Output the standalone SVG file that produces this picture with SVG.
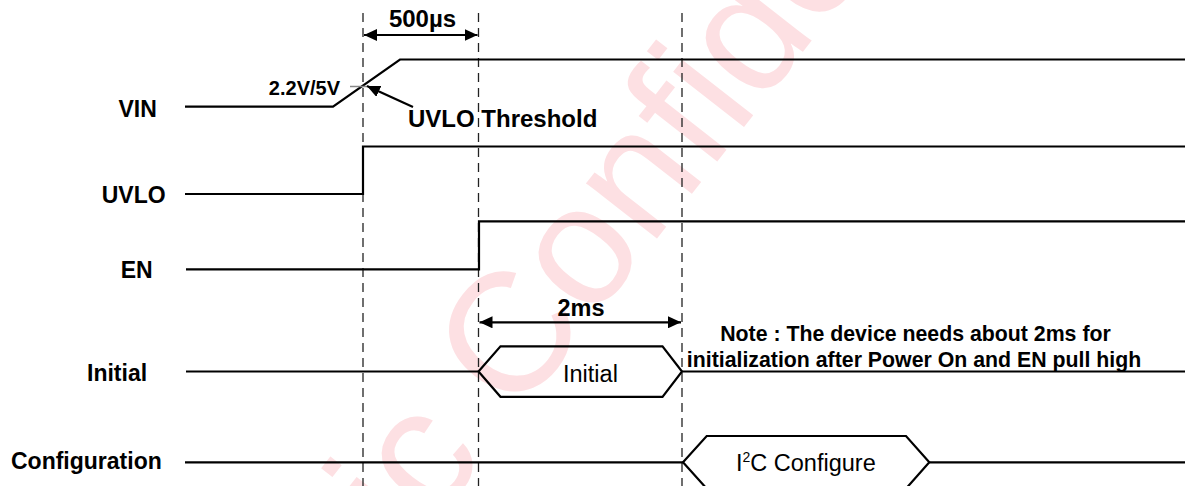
<svg xmlns="http://www.w3.org/2000/svg" width="1185" height="486" viewBox="0 0 1185 486">
<style>
.sig{fill:none;stroke:#000;stroke-width:2.2;stroke-linejoin:miter}
.dash{fill:none;stroke:#222;stroke-width:1.3;stroke-dasharray:9 6}
.dim{fill:none;stroke:#000;stroke-width:2.2}
.lbl{font-family:"Liberation Sans",Arial,sans-serif;font-weight:bold;font-size:23px;fill:#000}
.reg{font-family:"Liberation Sans",Arial,sans-serif;font-size:23.5px;fill:#000}
.wm{font-family:"Liberation Sans",Arial,sans-serif;font-size:170px;fill:#fde0e3}
</style>
<defs>
<marker id="ah" markerUnits="userSpaceOnUse" markerWidth="14" markerHeight="12" refX="13" refY="6" orient="auto-start-reverse">
<path d="M0,0 L13,6 L0,12 z" fill="#000"/>
</marker>
</defs>
<rect width="1185" height="486" fill="#fff"/>
<g id="watermark">
<text class="wm" transform="translate(516,419) rotate(-52)" x="-170" y="0">ic Confidential</text>
</g>
<g id="guides">
<line class="dash" x1="363" y1="13" x2="363" y2="486"/>
<line class="dash" x1="478.5" y1="13" x2="478.5" y2="486"/>
<line class="dash" x1="682" y1="13" x2="682" y2="486"/>
</g>
<g id="sig-vin">
<text class="lbl" x="118.5" y="116.5">VIN</text>
<polyline class="sig" points="185,106.7 333,106.7 400,59.5 1185,59.5"/>
<line x1="350" y1="86.5" x2="367" y2="86.5" stroke="#888" stroke-width="1.5"/>
<text class="lbl" style="font-size:20px" x="340" y="95" text-anchor="end">2.2V/5V</text>
<text class="lbl" style="font-size:24px" x="408" y="126.5">UVLO Threshold</text>
</g>
<g id="sig-uvlo">
<text class="lbl" x="101.7" y="203.3">UVLO</text>
<polyline class="sig" points="185,194 363,194 363,146.5 1185,146.5"/>
</g>
<g id="sig-en">
<text class="lbl" x="120.7" y="278.3">EN</text>
<polyline class="sig" points="186,269.3 479,269.3 479,221.3 1185,221.3"/>
</g>
<g id="sig-initial">
<text class="lbl" x="87" y="380.7">Initial</text>
<line class="sig" x1="186" y1="371.5" x2="478.5" y2="371.5"/>
<polygon class="sig" points="478.5,371.5 500.5,346.3 662.5,346.3 682,371.5 662.5,396.8 500.5,396.8"/>
<line class="sig" x1="682" y1="371.5" x2="1185" y2="371.5"/>
<text class="reg" x="563" y="381.7">Initial</text>
</g>
<g id="sig-config">
<text class="lbl" x="11" y="469">Configuration</text>
<line class="sig" x1="185" y1="462.3" x2="683" y2="462.3"/>
<polygon class="sig" points="683,462.3 706.7,436 906,436 929.3,462.3 906,488.6 706.7,488.6"/>
<line class="sig" x1="929.3" y1="462.3" x2="1185" y2="462.3"/>
<text class="reg" x="736" y="471">I<tspan style="font-size:14px" dy="-9.3">2</tspan><tspan dy="9.3">C Configure</tspan></text>
</g>
<g id="connectors">
<line class="dim" x1="364" y1="35" x2="477.5" y2="35" marker-start="url(#ah)" marker-end="url(#ah)"/>
<text class="lbl" style="font-size:24px" x="422.5" y="26.7" text-anchor="middle">500µs</text>
<line class="dim" x1="479.5" y1="322.3" x2="681" y2="322.3" marker-start="url(#ah)" marker-end="url(#ah)"/>
<text class="lbl" style="font-size:23.5px" x="581" y="316" text-anchor="middle">2ms</text>
<line class="dim" x1="413" y1="107" x2="367" y2="86" stroke-width="2" marker-end="url(#ah)"/>
</g>
<g id="note">
<text class="lbl" style="font-size:21.3px" x="915.5" y="340.7" text-anchor="middle">Note : The device needs about 2ms for</text>
<text class="lbl" style="font-size:21.3px" x="914" y="366.7" text-anchor="middle">initialization after Power On and EN pull high</text>
</g>
</svg>
